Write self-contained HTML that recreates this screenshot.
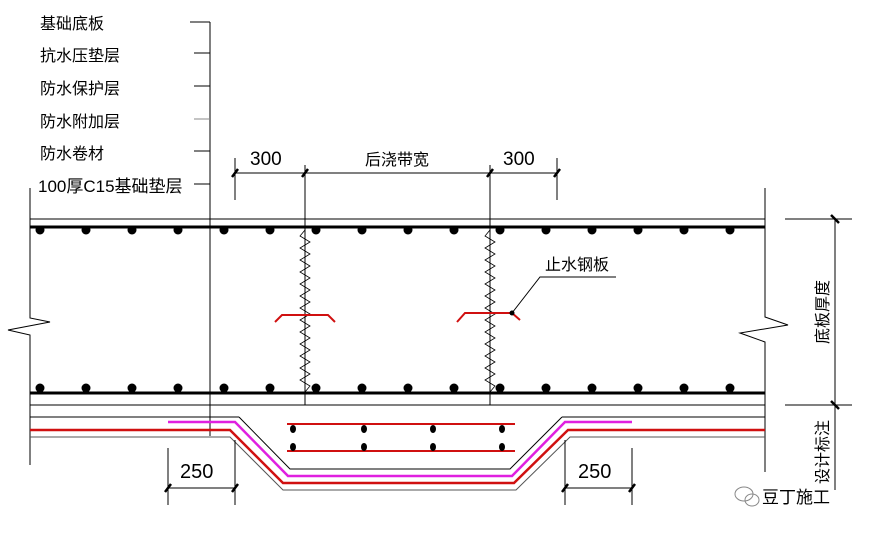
<!DOCTYPE html>
<html><head><meta charset="utf-8"><style>
html,body{margin:0;padding:0;background:#fff;}
svg{display:block;}
text{font-family:"Liberation Sans","Noto Sans CJK SC",sans-serif;fill:#000;}
</style></head><body>
<svg width="874" height="534" viewBox="0 0 874 534" xmlns="http://www.w3.org/2000/svg">
<g stroke="#000" stroke-width="1" fill="none">
<line x1="210" y1="22" x2="210" y2="436"/>
<line x1="190" y1="22" x2="210" y2="22"/>
<line x1="194" y1="53" x2="210" y2="53"/>
<line x1="194" y1="86" x2="210" y2="86"/>
<line x1="194" y1="119" x2="210" y2="119" stroke="#888"/>
<line x1="194" y1="151" x2="210" y2="151"/>
<line x1="194" y1="184" x2="210" y2="184"/>
<line x1="30" y1="219" x2="765" y2="219"/>
<line x1="30" y1="227" x2="765" y2="227" stroke-width="3"/>
<line x1="30" y1="393" x2="765" y2="393" stroke-width="3"/>
<line x1="30" y1="405" x2="765" y2="405"/>
<line x1="30" y1="417" x2="239" y2="417"/>
<line x1="562" y1="417" x2="765" y2="417"/>
<polyline points="30,188 30,318 50,322 8,330 30,335 30,465"/>
<polyline points="765,188 765,317 788,325 740,333 765,342 765,472"/>
<line x1="305" y1="165" x2="305" y2="405"/>
<line x1="490" y1="165" x2="490" y2="405"/>
<polyline stroke-width="0.8" points="305,230 300,236 310,242 300,248 310,254 300,260 310,266 300,272 310,278 300,284 310,290 300,296 310,302 300,308 310,314 300,320 310,326 300,332 310,338 300,344 310,350 300,356 310,362 300,368 310,374 300,380 310,386 305,392"/>
<polyline stroke-width="0.8" points="490,230 485,236 495,242 485,248 495,254 485,260 495,266 485,272 495,278 485,284 495,290 485,296 495,302 485,308 495,314 485,320 495,326 485,332 495,338 485,344 495,350 485,356 495,362 485,368 495,374 485,380 495,386 490,392"/>
<line x1="235" y1="173" x2="557" y2="173"/>
<line x1="235" y1="158" x2="235" y2="200"/>
<line x1="557" y1="158" x2="557" y2="200"/>
<g stroke-width="2.5"><line x1="232" y1="177" x2="238" y2="169"/><line x1="302" y1="177" x2="308" y2="169"/><line x1="487" y1="177" x2="493" y2="169"/><line x1="554" y1="177" x2="560" y2="169"/></g>
<line x1="785" y1="219" x2="852" y2="219"/>
<line x1="785" y1="405" x2="852" y2="405"/>
<line x1="835" y1="219" x2="835" y2="490"/>
<g stroke-width="2.5"><line x1="831" y1="215" x2="839" y2="223"/><line x1="831" y1="401" x2="839" y2="409"/></g>
<polyline points="512,313 540,277 616,277"/>
<polyline points="239,417 290,469 510,469 562,417"/>
<polyline stroke="#555" points="30,437 230,437 283,490 516,490 570,437 765,437"/>
<line x1="168" y1="448" x2="168" y2="505"/>
<line x1="235" y1="440" x2="235" y2="505"/>
<line x1="168" y1="488" x2="235" y2="488"/>
<line x1="565" y1="440" x2="565" y2="505"/>
<line x1="632" y1="448" x2="632" y2="505"/>
<line x1="565" y1="488" x2="632" y2="488"/>
<g stroke-width="2.5"><line x1="165" y1="492" x2="171" y2="484"/><line x1="232" y1="492" x2="238" y2="484"/><line x1="562" y1="492" x2="568" y2="484"/><line x1="629" y1="492" x2="635" y2="484"/></g>
</g>
<g fill="none" stroke-width="2.5">
<polyline stroke="#d01010" points="30,430 230,430 283,483 514,483 568,430 765,430"/>
<polyline stroke="#e020e0" points="168,422 235,422 288,476 512,476 565,422 632,422"/>
<line stroke="#d01010" x1="287" y1="424" x2="515" y2="424" stroke-width="2"/>
<line stroke="#d01010" x1="287" y1="451" x2="515" y2="451" stroke-width="2"/>
<polyline stroke="#d01010" stroke-width="2" points="275,322 282,315 328,315 335,322"/>
<polyline stroke="#d01010" stroke-width="2" points="457,322 465,313 512,313 520,320"/>
</g>
<circle cx="512" cy="313" r="2.5" fill="#000"/>
<g fill="#000">
<circle cx="40" cy="230" r="4.5"/><circle cx="86" cy="230" r="4.5"/><circle cx="132" cy="230" r="4.5"/><circle cx="178" cy="230" r="4.5"/><circle cx="224" cy="230" r="4.5"/><circle cx="270" cy="230" r="4.5"/><circle cx="316" cy="230" r="4.5"/><circle cx="362" cy="230" r="4.5"/><circle cx="408" cy="230" r="4.5"/><circle cx="454" cy="230" r="4.5"/><circle cx="500" cy="230" r="4.5"/><circle cx="546" cy="230" r="4.5"/><circle cx="592" cy="230" r="4.5"/><circle cx="638" cy="230" r="4.5"/><circle cx="684" cy="230" r="4.5"/><circle cx="730" cy="230" r="4.5"/>
<circle cx="40" cy="388" r="4.5"/><circle cx="86" cy="388" r="4.5"/><circle cx="132" cy="388" r="4.5"/><circle cx="178" cy="388" r="4.5"/><circle cx="224" cy="388" r="4.5"/><circle cx="270" cy="388" r="4.5"/><circle cx="316" cy="388" r="4.5"/><circle cx="362" cy="388" r="4.5"/><circle cx="408" cy="388" r="4.5"/><circle cx="454" cy="388" r="4.5"/><circle cx="500" cy="388" r="4.5"/><circle cx="546" cy="388" r="4.5"/><circle cx="592" cy="388" r="4.5"/><circle cx="638" cy="388" r="4.5"/><circle cx="684" cy="388" r="4.5"/><circle cx="730" cy="388" r="4.5"/>
<ellipse cx="293" cy="429" rx="3" ry="4"/><ellipse cx="364" cy="429" rx="3" ry="4"/><ellipse cx="433" cy="429" rx="3" ry="4"/><ellipse cx="502" cy="429" rx="3" ry="4"/>
<ellipse cx="293" cy="447" rx="3" ry="4"/><ellipse cx="364" cy="447" rx="3" ry="4"/><ellipse cx="433" cy="447" rx="3" ry="4"/><ellipse cx="502" cy="447" rx="3" ry="4"/>
</g>
<g font-size="16">
<text x="40" y="29">基础底板</text>
<text x="40" y="61">抗水压垫层</text>
<text x="40" y="94">防水保护层</text>
<text x="40" y="127">防水附加层</text>
<text x="40" y="159">防水卷材</text>
<text x="38" y="192" font-size="17">100厚C15基础垫层</text>
<text x="250" y="165" font-size="19">300</text>
<text x="365" y="165">后浇带宽</text>
<text x="503" y="165" font-size="19">300</text>
<text x="545" y="270">止水钢板</text>
<text x="180" y="478" font-size="20">250</text>
<text x="578" y="478" font-size="20">250</text>
<text transform="translate(828,312) rotate(-90)" text-anchor="middle">底板厚度</text>
<text transform="translate(828,452) rotate(-90)" text-anchor="middle">设计标注</text>
<text x="762" y="503" font-size="17" fill="#333">豆丁施工</text>
</g>
<g fill="none" stroke="#888"><ellipse cx="744" cy="494" rx="9" ry="7"/><ellipse cx="752" cy="500" rx="7" ry="6"/></g>
</svg>
</body></html>
